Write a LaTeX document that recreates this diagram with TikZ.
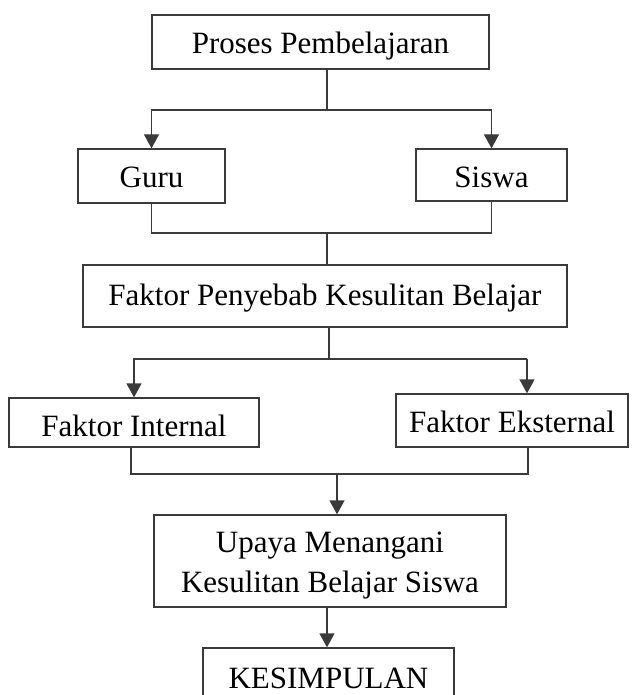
\documentclass[tikz,border=0pt]{standalone}
\usepackage{fontspec}
\setmainfont{Liberation Serif}
\usetikzlibrary{arrows.meta}
\definecolor{linegray}{HTML}{3A3A3A}
\tikzset{
  box/.style={draw=linegray, line width=1.3pt, inner sep=0pt, text depth=0pt,
    font=\fontsize{31}{40}\selectfont, align=center},
  conn/.style={draw=linegray, line width=1.3pt},
  arr/.style={conn, -{Triangle[width=15pt,length=14pt]}, shorten >=0pt}
}
\begin{document}
\begin{tikzpicture}[x=1pt,y=-1pt]
\useasboundingbox (0,0) rectangle (637,695);
\clip (0,0) rectangle (637,695);
% boxes
\node[box, minimum width=337pt, minimum height=54pt, text height=24pt] (proses) at (320.5,42) {Proses Pembelajaran};
\node[box, minimum width=147pt, minimum height=54pt, text height=22pt] (guru) at (151.5,176) {Guru};
\node[box, minimum width=151pt, minimum height=52pt, text height=24pt] (siswa) at (491.5,175) {Siswa};
\node[box, minimum width=484pt, minimum height=62pt, text height=18pt] (faktor) at (325,296) {Faktor Penyebab Kesulitan Belajar};
\node[box, minimum width=250pt, minimum height=49pt, text height=27pt] (internal) at (134,422.5) {Faktor Internal};
\node[box, minimum width=232pt, minimum height=53pt, text height=23pt] (eksternal) at (512,420.5) {Faktor Eksternal};
\node[box, minimum width=352pt, minimum height=92pt, text depth=] (upaya) at (330,561) {\rule{0pt}{29pt}Upaya Menangani\\Kesulitan Belajar Siswa};
\node[box, minimum width=251pt, minimum height=57pt, text height=23pt] (kesimpulan) at (328.5,676.5) {KESIMPULAN};
% junction coordinates
\coordinate (j1) at (327,110);
\coordinate (j2) at (327,233);
\coordinate (j3) at (329,359);
\coordinate (j4) at (337,474);
\coordinate (eka) at (527,359);
\coordinate (ekb) at (528,474);
\coordinate (upb) at (327,607);
% connectors
\draw[conn] (proses.south -| j1) -- (j1);
\draw[arr] (j1) -| (guru.north);
\draw[arr] (j1) -| (siswa.north);
\draw[conn] (guru.south) |- (j2) -| (siswa.south);
\draw[conn] (j2) -- (faktor.north -| j2);
\draw[conn] (faktor.south -| j3) -- (j3);
\draw[arr] (j3) -| (internal.north);
\draw[conn] (j3) -- (eka);
\draw[arr] (eka) -- (eka |- eksternal.north);
\draw[conn] (internal.south -| 131,0) |- (j4) -- (ekb) -- (ekb |- eksternal.south);
\draw[arr] (j4) -- (upaya.north -| j4);
\draw[arr] (upaya.south -| upb) -- (kesimpulan.north -| upb);
\end{tikzpicture}
\end{document}
